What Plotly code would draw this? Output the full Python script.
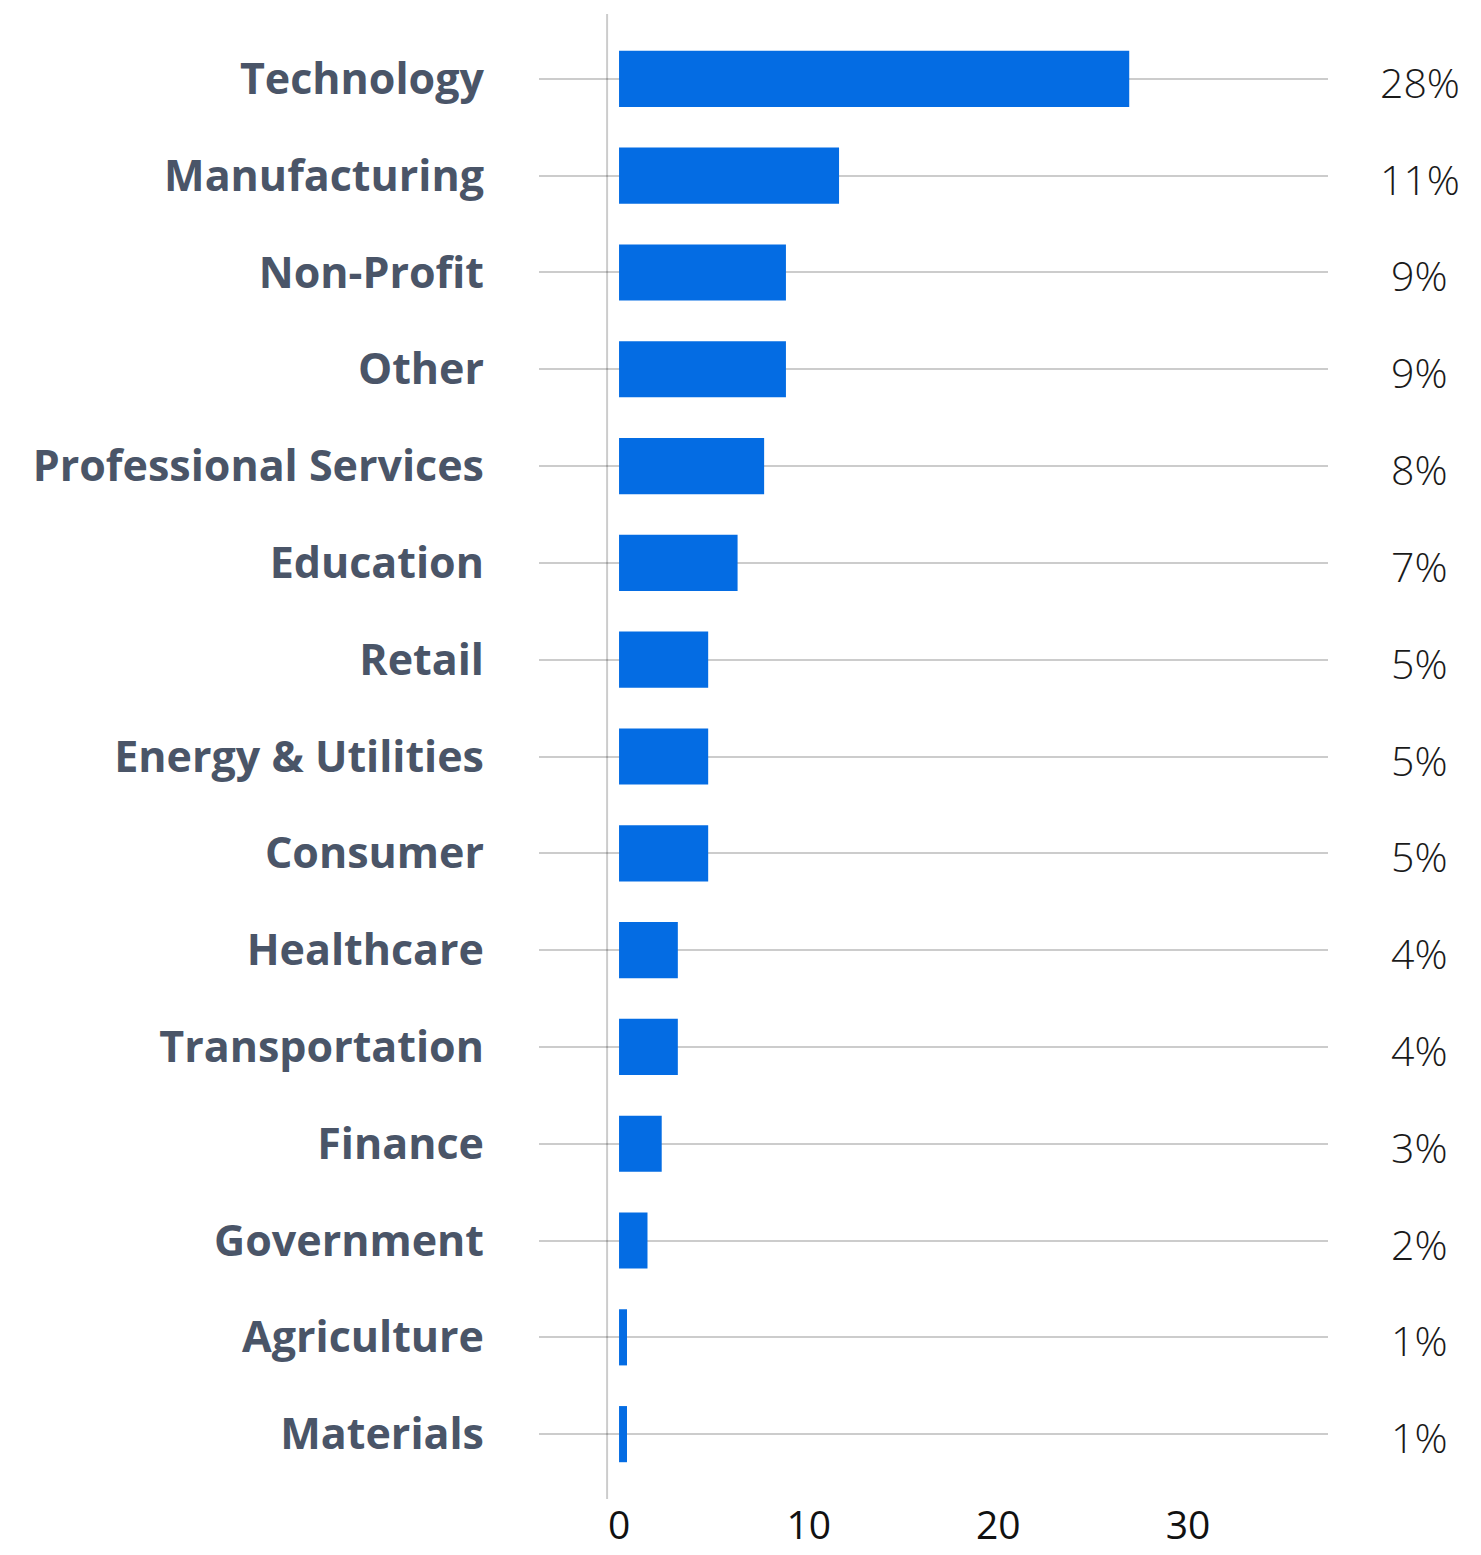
import plotly.graph_objects as go

categories = ["Technology", "Manufacturing", "Non-Profit", "Other", "Professional Services",
              "Education", "Retail", "Energy & Utilities", "Consumer", "Healthcare",
              "Transportation", "Finance", "Government", "Agriculture", "Materials"]
values = [26.9, 11.6, 8.8, 8.8, 7.65, 6.25, 4.7, 4.7, 4.7, 3.1, 3.1, 2.25, 1.5, 0.42, 0.42]
pct_labels = ["28%", "11%", "9%", "9%", "8%", "7%", "5%", "5%", "5%", "4%", "4%", "3%", "2%", "1%", "1%"]
x_ticks = [0, 10, 20, 30]

W, H = 1481, 1555
ML, MR, MT, MB = 539, 153, 14, 56

fig = go.Figure()
fig.add_trace(go.Bar(
    y=categories, x=values, orientation="h",
    marker=dict(color="#046ce3", line=dict(width=0)),
    hoverinfo="x+y",
))

for cat, lab in zip(categories, pct_labels):
    fig.add_annotation(x=1.1166, xref="paper", y=cat, yref="y",
                       text="<span style='font-weight:300'>" + lab + "</span>",
                       showarrow=False, xanchor="center", yanchor="middle", yshift=-3,
                       font=dict(family="Open Sans", size=41, color="#1a1a1a", weight=300))

fig.add_shape(type="line", xref="x", yref="paper", x0=-0.63, x1=-0.63, y0=0, y1=1,
              line=dict(color="rgba(0,0,0,0.2)", width=2), layer="below")

fig.update_layout(
    width=W, height=H,
    margin=dict(l=ML, r=MR, t=MT, b=MB, pad=0, autoexpand=False),
    paper_bgcolor="white", plot_bgcolor="white",
    bargap=0.42, showlegend=False,
    font=dict(family="Open Sans"),
)
fig.update_xaxes(range=[-4.22, 37.38], tickvals=x_ticks, showgrid=False, zeroline=False,
                 showline=False, ticks="", automargin=False, ticklabelstandoff=0,
                 tickfont=dict(family="Open Sans", size=39, color="#111111"))
fig.update_yaxes(type="category", categoryorder="array", categoryarray=categories,
                 tickvals=categories, ticktext=["<b>" + c + "</b>" for c in categories],
                 range=[14.67, -0.67], showgrid=True, gridcolor="rgba(0,0,0,0.2)", gridwidth=2,
                 zeroline=False, showline=False, ticks="", ticklabelstandoff=54, automargin=False,
                 tickfont=dict(family="Open Sans", size=43, color="#4a5568", weight=600))

fig.write_html("out.html", config={"displayModeBar": False},
               post_script="document.body.style.margin='0';")
